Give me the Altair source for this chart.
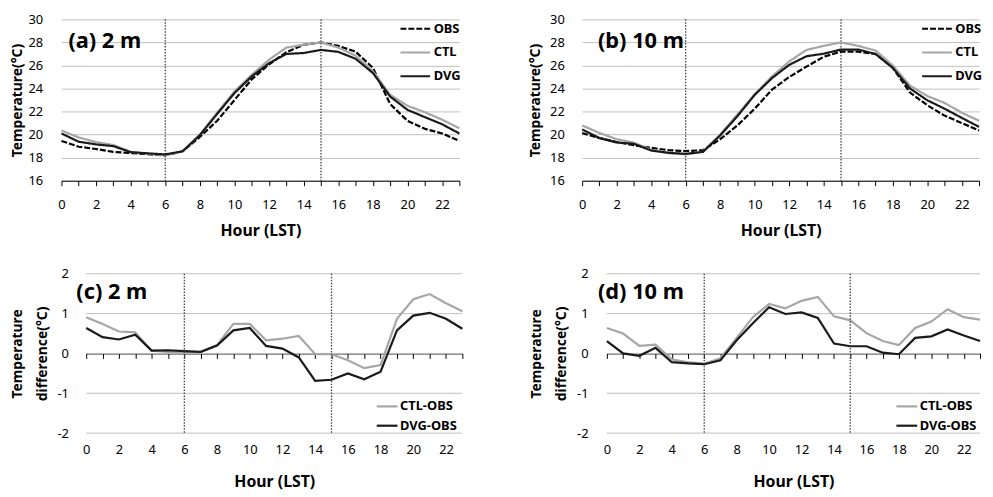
import altair as alt
import pandas as pd

# ---------------- data ----------------
hours = list(range(24))
marker_hours = [6, 15]
temp_ticks = [16, 18, 20, 22, 24, 26, 28, 30]
diff_ticks = [-2, -1, 0, 1, 2]
series_top = ["OBS", "CTL", "DVG"]
series_bot = ["CTL-OBS", "DVG-OBS"]
panel_labels = ["(a) 2 m", "(b) 10 m", "(c) 2 m", "(d) 10 m"]

obs_2m = [19.45, 18.95, 18.75, 18.5, 18.4, 18.3, 18.2, 18.55, 19.8, 21.2, 23.0, 24.8,
          26.1, 27.15, 27.8, 28.0, 27.7, 27.2, 25.8, 22.65, 21.2, 20.5, 20.1, 19.45]
ctl_2m = [20.36, 19.75, 19.35, 19.1, 18.5, 18.35, 18.2, 18.55, 20.0, 21.9, 23.75, 25.2,
          26.5, 27.55, 27.8, 28.0, 27.55, 26.85, 25.5, 23.45, 22.5, 21.95, 21.3, 20.55]
dvg_2m = [20.1, 19.38, 19.15, 19.0, 18.48, 18.37, 18.28, 18.55, 19.95, 21.8, 23.6, 25.05,
          26.2, 27.0, 27.08, 27.35, 27.18, 26.58, 25.35, 23.3, 22.15, 21.52, 20.9, 20.1]

obs_10m = [20.13, 19.7, 19.36, 19.08, 18.85, 18.65, 18.57, 18.65, 19.6, 20.8, 22.25, 23.9,
           25.0, 25.9, 26.75, 27.2, 27.2, 27.0, 25.8, 23.65, 22.55, 21.65, 21.0, 20.36]
ctl_10m = [20.8, 20.15, 19.6, 19.3, 18.68, 18.4, 18.28, 18.52, 20.0, 21.75, 23.5, 25.05,
           26.35, 27.35, 27.7, 28.0, 27.7, 27.3, 26.0, 24.25, 23.35, 22.75, 21.9, 21.2]
dvg_10m = [20.45, 19.7, 19.32, 19.2, 18.62, 18.42, 18.33, 18.5, 19.93, 21.6, 23.45, 24.9,
           26.05, 26.8, 27.02, 27.38, 27.38, 27.0, 25.8, 24.0, 22.98, 22.25, 21.45, 20.67]

ctl_obs_2m = [0.91, 0.74, 0.55, 0.53, 0.07, 0.04, 0.02, 0.03, 0.21, 0.74, 0.74, 0.33,
              0.37, 0.44, -0.02, -0.02, -0.17, -0.37, -0.29, 0.87, 1.36, 1.49, 1.26, 1.06]
dvg_obs_2m = [0.64, 0.41, 0.35, 0.47, 0.07, 0.08, 0.06, 0.04, 0.2, 0.58, 0.64, 0.19,
              0.12, -0.1, -0.69, -0.66, -0.5, -0.65, -0.46, 0.58, 0.95, 1.02, 0.87, 0.62]
ctl_obs_10m = [0.64, 0.5, 0.19, 0.22, -0.15, -0.22, -0.26, -0.12, 0.39, 0.91, 1.24, 1.13,
               1.32, 1.42, 0.93, 0.83, 0.51, 0.31, 0.21, 0.64, 0.8, 1.11, 0.91, 0.85]
dvg_obs_10m = [0.31, 0.0, -0.06, 0.14, -0.22, -0.25, -0.27, -0.17, 0.33, 0.76, 1.16, 0.99,
               1.03, 0.89, 0.25, 0.18, 0.18, 0.02, -0.02, 0.39, 0.43, 0.6, 0.45, 0.31]

# ---------------- styling ----------------
FONT = "Noto Sans"
GRID = "#bfbfbf"
TOP_COLORS = ["#000000", "#a6a6a6", "#1a1a1a"]
TOP_DASH = [[6, 2], [1, 0], [1, 0]]
BOT_COLORS = ["#a6a6a6", "#1a1a1a"]
LABEL_EXPR = "datum.value % 2 === 0 ? datum.label : ''"
INSET = 25  # left inset of the lower panels' plotting range


def top_panel(obs, ctl, dvg, label, width, lab_x, leg_x, ylab_pad, y_extent, y_title_pad):
    height = 163
    df = pd.DataFrame({
        "hour": hours * 3,
        "value": obs + ctl + dvg,
        "series": [s for s in series_top for _ in hours],
    })
    xs = alt.Scale(domain=[hours[0], hours[-1]], nice=False, zero=False)
    x_axis = alt.Axis(
        values=hours, labelExpr=LABEL_EXPR, title="Hour (LST)", grid=False,
        domainColor="#000", tickColor="#000", tickSize=5, labelPadding=13,
        titlePadding=11, labelFlush=False, labelOverlap=False)
    y = alt.Y("value:Q", scale=alt.Scale(domain=[16, 30], nice=False, zero=False),
              axis=alt.Axis(values=temp_ticks, title="Temperature(°C)", domain=False,
                            ticks=False, tickSize=0, labelPadding=ylab_pad,
                            minExtent=y_extent, maxExtent=y_extent,
                            titlePadding=y_title_pad, gridColor=GRID))
    leg = alt.Legend(title=None, orient="none", legendX=leg_x, legendY=-7,
                     symbolType="stroke", symbolSize=900, symbolStrokeWidth=2.2,
                     labelFontSize=13, labelFontWeight="bold", labelOffset=2,
                     rowPadding=-3, padding=0)
    lines = alt.Chart(df).mark_line(strokeWidth=2.2).encode(
        x=alt.X("hour:Q", scale=xs, axis=x_axis), y=y,
        color=alt.Color("series:N", scale=alt.Scale(domain=series_top, range=TOP_COLORS),
                        legend=leg),
        strokeDash=alt.StrokeDash("series:N", scale=alt.Scale(domain=series_top, range=TOP_DASH),
                                  legend=leg),
    )
    rules = alt.Chart(pd.DataFrame({"hour": marker_hours})).mark_rule(
        color="#404040", strokeDash=[1.5, 1.5], strokeWidth=1.3
    ).encode(x=alt.X("hour:Q", scale=xs, axis=x_axis))
    text = alt.Chart(pd.DataFrame({"label": [label]})).mark_text(
        align="left", baseline="middle", fontSize=22, fontWeight="bold", font=FONT, color="#000"
    ).encode(x=alt.value(lab_x), y=alt.value(21.5), text="label:N")
    return alt.layer(rules, lines, text).properties(width=width, height=height)


def bottom_panel(ctl_obs, dvg_obs, label, width, lab_x, leg_x, ylab_pad, y_extent, y_title_pad):
    height = 161
    df = pd.DataFrame({
        "hour": hours * 2,
        "value": ctl_obs + dvg_obs,
        "series": [s for s in series_bot for _ in hours],
    })
    grid_df = pd.DataFrame({"value": diff_ticks, "h0": hours[0], "h1": hours[-1]})
    xs = alt.Scale(domain=[hours[0], hours[-1]], range=[INSET, width], nice=False, zero=False)
    x_labels = alt.X("hour:Q", scale=xs, axis=alt.Axis(
        values=hours, labelExpr=LABEL_EXPR, title="Hour (LST)", grid=False,
        domain=False, ticks=False, tickSize=0, labelPadding=11, titlePadding=17,
        labelFlush=False, labelOverlap=False, orient="bottom"))
    x_zero = alt.X("hour:Q", scale=xs, axis=alt.Axis(
        values=hours, labels=False, title=None, grid=False, domainColor="#000",
        tickColor="#000", tickSize=5, orient="bottom", offset=-height / 2))
    ys = alt.Scale(domain=[-2, 2], nice=False, zero=False)
    y = alt.Y("value:Q", scale=ys,
              axis=alt.Axis(values=diff_ticks, title=["Temperature", "difference(°C)"],
                            titleLineHeight=25, labelExpr="'' + datum.value",
                            domain=False, ticks=False, tickSize=0, labelPadding=ylab_pad,
                            minExtent=y_extent, maxExtent=y_extent, offset=-INSET,
                            titlePadding=y_title_pad, grid=False))
    leg = alt.Legend(title=None, orient="none", legendX=leg_x, legendY=122,
                     symbolType="stroke", symbolSize=441, symbolStrokeWidth=2.2,
                     labelFontSize=13, labelFontWeight="bold", labelOffset=1,
                     rowPadding=0.5, padding=0)
    grid = alt.Chart(grid_df).mark_rule(color=GRID, strokeWidth=1).encode(
        x=alt.X("h0:Q", scale=xs, axis=None), x2="h1:Q", y=alt.Y("value:Q", scale=ys, axis=None))
    lines = alt.Chart(df).mark_line(strokeWidth=2.2).encode(
        x=x_labels, y=y,
        color=alt.Color("series:N", scale=alt.Scale(domain=series_bot, range=BOT_COLORS),
                        legend=leg),
    )
    rules = alt.Chart(pd.DataFrame({"hour": marker_hours})).mark_rule(
        color="#404040", strokeDash=[1.5, 1.5], strokeWidth=1.3
    ).encode(x=x_zero)
    text = alt.Chart(pd.DataFrame({"label": [label]})).mark_text(
        align="left", baseline="middle", fontSize=22, fontWeight="bold", font=FONT, color="#000"
    ).encode(x=alt.value(lab_x), y=alt.value(18), text="label:N")
    return (alt.layer(grid, lines, rules, text)
            .resolve_axis(x="independent", y="independent")
            .properties(width=width, height=height))


pa = top_panel(obs_2m, ctl_2m, dvg_2m, panel_labels[0], 402, 7, 341, 19, 33, 4)
pb = top_panel(obs_10m, ctl_10m, dvg_10m, panel_labels[1], 401, 16, 342, 18, 32, 8)
pc = bottom_panel(ctl_obs_2m, dvg_obs_2m, panel_labels[2], 405, 15, 317, 18, 29, 8)
pd_ = bottom_panel(ctl_obs_10m, dvg_obs_10m, panel_labels[3], 402, 16, 316, 19, 31, 8)

chart = (
    alt.concat(pa, pb, pc, pd_, columns=2, bounds="full",
               spacing=alt.RowColnumber(row=30, column=62))
    .resolve_scale(color="independent", strokeDash="independent")
    .resolve_legend(color="independent", strokeDash="independent")
    .properties(padding={"left": 3, "top": 2, "right": 0, "bottom": 0})
    .configure_view(stroke=None)
    .configure_axis(
        labelFont=FONT, titleFont=FONT, labelFontSize=13, labelColor="#000",
        titleColor="#000", titleFontWeight="bold", titleFontSize=14,
    )
    .configure_axisX(titleFontSize=16)
    .configure_legend(labelFont=FONT, labelColor="#000")
)

chart.save("out.html", embed_options={"renderer": "svg", "actions": False})
